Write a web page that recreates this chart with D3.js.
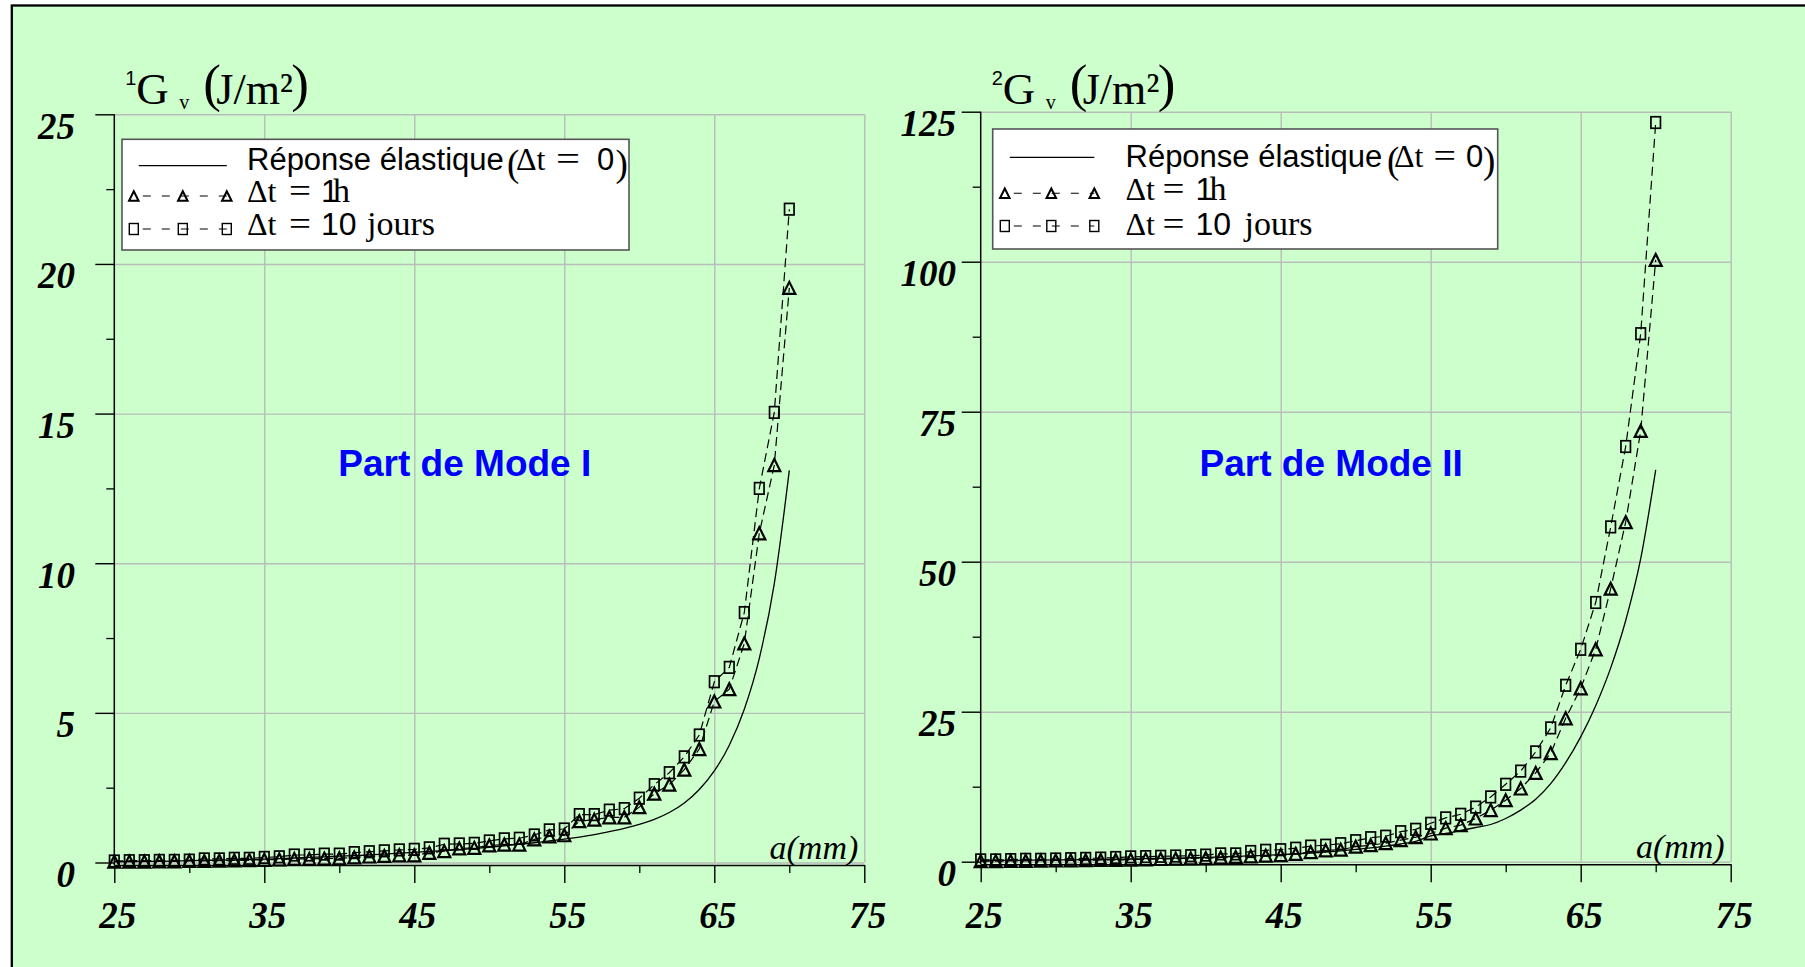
<!DOCTYPE html>
<html>
<head>
<meta charset="utf-8">
<script src="https://d3js.org/d3.v7.min.js"></script>
<style>
body { margin: 0; background: #fff; }
svg { display: block; }
</style>
</head>
<body>
<div id="chart"></div>
<script>
// crack length a (mm), one marker per mm
var aMm = [25, 26, 27, 28, 29, 30, 31, 32, 33, 34, 35, 36, 37, 38, 39, 40, 41, 42, 43, 44, 45, 46, 47,
           48, 49, 50, 51, 52, 53, 54, 55, 56, 57, 58, 59, 60, 61, 62, 63, 64, 65, 66, 67, 68, 69, 70];

// Mode I share, 1Gv (J/m²)
var elastiqueI = [0.03, 0.03, 0.04, 0.04, 0.05, 0.06, 0.07, 0.08, 0.09, 0.10, 0.11, 0.13, 0.15, 0.17, 0.19, 0.21,
                  0.23, 0.25, 0.28, 0.31, 0.34, 0.37, 0.40, 0.43, 0.47, 0.51, 0.56, 0.61, 0.66, 0.72, 0.78, 0.85,
                  0.93, 1.03, 1.14, 1.27, 1.44, 1.67, 1.99, 2.44, 3.06, 3.92, 5.12, 6.82, 9.32, 13.1];
var uneHeureI = [0.03, 0.03, 0.03, 0.04, 0.04, 0.05, 0.05, 0.06, 0.07, 0.08, 0.09, 0.10, 0.12, 0.12, 0.13, 0.14,
                 0.17, 0.20, 0.22, 0.24, 0.24, 0.32, 0.38, 0.47, 0.49, 0.57, 0.60, 0.60, 0.77, 0.87, 0.91, 1.38,
                 1.43, 1.51, 1.51, 1.85, 2.30, 2.60, 3.10, 3.79, 5.38, 5.79, 7.32, 11.0, 13.28, 19.2];
var dixJoursI = [0.05, 0.06, 0.06, 0.07, 0.07, 0.08, 0.12, 0.12, 0.14, 0.14, 0.17, 0.19, 0.25, 0.25, 0.28, 0.28,
                 0.33, 0.36, 0.39, 0.42, 0.44, 0.49, 0.61, 0.62, 0.64, 0.72, 0.79, 0.81, 0.92, 1.09, 1.12, 1.60,
                 1.60, 1.75, 1.80, 2.15, 2.60, 3.00, 3.53, 4.26, 6.04, 6.52, 8.35, 12.5, 15.04, 21.83];

// Mode II share, 2Gv (J/m²)
var elastiqueII = [0.20, 0.21, 0.23, 0.25, 0.27, 0.29, 0.31, 0.34, 0.37, 0.41, 0.45, 0.50, 0.55, 0.60, 0.66, 0.72,
                   0.80, 0.88, 0.97, 1.07, 1.18, 1.30, 1.45, 1.62, 1.82, 2.05, 2.30, 2.60, 2.95, 3.40, 4.30, 4.70,
                   5.20, 5.70, 6.20, 7.20, 8.60, 10.4, 13.0, 16.5, 20.8, 26.0, 32.3, 40.2, 50.5, 65.3];
var uneHeureII = [0.10, 0.10, 0.12, 0.15, 0.17, 0.20, 0.22, 0.25, 0.28, 0.30, 0.35, 0.40, 0.45, 0.50, 0.55, 0.60,
                  0.70, 0.80, 0.90, 1.00, 1.10, 1.30, 1.60, 1.90, 2.00, 2.50, 2.75, 3.10, 3.60, 4.10, 4.70, 5.60,
                  6.10, 7.20, 8.60, 10.25, 12.2, 14.8, 18.1, 23.9, 28.9, 35.4, 45.5, 56.6, 71.8, 100.3];
var dixJoursII = [0.30, 0.30, 0.35, 0.40, 0.40, 0.45, 0.50, 0.55, 0.60, 0.70, 0.80, 0.85, 0.90, 0.95, 1.00, 1.10,
                  1.30, 1.30, 1.70, 1.90, 2.00, 2.25, 2.60, 2.75, 3.00, 3.50, 4.00, 4.25, 5.00, 5.40, 6.40, 7.30,
                  7.90, 9.10, 10.8, 12.9, 15.1, 18.3, 22.3, 29.4, 35.4, 43.2, 55.8, 69.2, 88.0, 123.2];

var xTicks = [25, 35, 45, 55, 65, 75];
var xMinor = [30, 40, 50, 60, 70];
var yTicksI = [0, 5, 10, 15, 20, 25];
var yMinorI = [2.5, 7.5, 12.5, 17.5, 22.5];
var yTicksII = [0, 25, 50, 75, 100, 125];
var yMinorII = [12.5, 37.5, 62.5, 87.5, 112.5];

var modeLabels = ["Part de Mode I", "Part de Mode II"];

var serif = "'Liberation Serif', 'Times New Roman', serif";
var sans = "'Liberation Sans', Arial, sans-serif";
var gridColor = "#b9bdb9";

var panels = [
    {idx: "1", left: 114.3, right: 864.3, bottom: 862.5, top: 114.3, yMax: 25,
     yTicks: yTicksI, yMinor: yMinorI, yLabelRight: 75,
     elastic: elastiqueI, h1: uneHeureI, j10: dixJoursI, label: modeLabels[0],
     legend: {x: 122, y: 139.3, w: 507, h: 110.7, rows: [165.7, 196, 229], base: [170, 201.7, 235],
              m: [133.8, 182.8, 226.8], textX: 247,
              paren: [260, 9, 49, 24, 90, 108.5], eq: [42, 22, 74, 86, 120]}},
    {idx: "2", left: 980.7, right: 1730.7, bottom: 861.7, top: 111.7, yMax: 125,
     yTicks: yTicksII, yMinor: yMinorII, yLabelRight: 956,
     elastic: elastiqueII, h1: uneHeureII, j10: dixJoursII, label: modeLabels[1],
     legend: {x: 992.7, y: 129, w: 505, h: 120, rows: [157.3, 193.3, 226], base: [167, 200, 235],
              m: [1004.8, 1051.3, 1094.3], textX: 1125.5,
              paren: [261.5, 7, 46.5, 22.5, 79, 96], eq: [37, 22, 70, 84, 119]}}
];

var svg = d3.select("#chart").append("svg")
    .attr("width", 1805)
    .attr("height", 967);

// green frame
svg.append("rect")
    .attr("x", 11.8).attr("y", 5.5)
    .attr("width", 1900).attr("height", 1100)
    .attr("fill", "#ccffcc")
    .attr("stroke", "#000")
    .attr("stroke-width", 2.3);

function triPath(w, h) {
    return "M0," + (-h / 2) + "L" + (w / 2) + "," + (h / 2) + "L" + (-w / 2) + "," + (h / 2) + "Z";
}

panels.forEach(function(p) {
    var x = d3.scaleLinear().domain([25, 75]).range([p.left, p.right]);
    var y = d3.scaleLinear().domain([0, p.yMax]).range([p.bottom, p.top]);
    var g = svg.append("g");

    // grid
    g.append("g")
        .attr("transform", "translate(0," + p.bottom + ")")
        .call(d3.axisBottom(x).tickValues(xTicks.slice(1)).tickSize(-(p.bottom - p.top)).tickFormat(""))
        .call(s => s.select(".domain").remove())
        .selectAll("line").attr("stroke", gridColor).attr("stroke-width", 1.4);
    g.append("g")
        .attr("transform", "translate(" + p.left + ",0)")
        .call(d3.axisLeft(y).tickValues(p.yTicks).tickSize(-(p.right - p.left)).tickFormat(""))
        .call(s => s.select(".domain").remove())
        .selectAll("line").attr("stroke", gridColor).attr("stroke-width", 1.4);

    // y axis
    g.append("line")
        .attr("x1", p.left).attr("x2", p.left)
        .attr("y1", y(p.yMax)).attr("y2", y(0) + 2.5)
        .attr("stroke", "#000").attr("stroke-width", 1.5);
    var yAx = g.append("g")
        .attr("transform", "translate(" + p.left + ",0)")
        .call(d3.axisLeft(y).tickValues(p.yTicks).tickSize(19).tickSizeOuter(0));
    yAx.select(".domain").remove();
    yAx.selectAll("line").attr("stroke", "#000").attr("stroke-width", 1.4);
    yAx.selectAll("text")
        .attr("x", p.yLabelRight - p.left)
        .attr("y", 24).attr("dy", null)
        .attr("font-family", serif).attr("font-weight", "bold").attr("font-style", "italic")
        .attr("font-size", 37).attr("fill", "#000");
    g.append("g")
        .attr("transform", "translate(" + p.left + ",0)")
        .call(d3.axisLeft(y).tickValues(p.yMinor).tickSize(8).tickFormat(""))
        .call(s => s.select(".domain").remove())
        .selectAll("line").attr("stroke", "#000").attr("stroke-width", 1.3);

    // x axis
    var xAx = g.append("g")
        .attr("transform", "translate(0," + (p.bottom + 2.5) + ")")
        .call(d3.axisBottom(x).tickValues(xTicks).tickSize(18).tickSizeOuter(0));
    xAx.select(".domain").attr("stroke", "#000").attr("stroke-width", 1.5);
    xAx.selectAll("line").attr("stroke", "#000").attr("stroke-width", 1.4);
    xAx.selectAll("text")
        .attr("x", 3).attr("y", 928 - p.bottom - 2.5).attr("dy", null)
        .attr("font-family", serif).attr("font-weight", "bold").attr("font-style", "italic")
        .attr("font-size", 37).attr("fill", "#000");
    g.append("g")
        .attr("transform", "translate(0," + (p.bottom + 2.5) + ")")
        .call(d3.axisBottom(x).tickValues(xMinor).tickSize(8).tickFormat(""))
        .call(s => s.select(".domain").remove())
        .selectAll("line").attr("stroke", "#000").attr("stroke-width", 1.3);

    g.append("text")
        .attr("x", x(75) - 6).attr("y", p.bottom - 4)
        .attr("text-anchor", "end")
        .attr("font-family", serif).attr("font-style", "italic").attr("font-size", 34)
        .text("a(mm)");

    // series
    var pts = aMm.map(function(a, i) {
        return {a: a, e: p.elastic[i], h: p.h1[i], j: p.j10[i]};
    });
    g.append("path")
        .attr("d", d3.line().x(d => x(d.a)).y(d => y(d.e)).curve(d3.curveMonotoneX)(pts))
        .attr("fill", "none").attr("stroke", "#000").attr("stroke-width", 1.3);
    ["h", "j"].forEach(function(k) {
        g.append("path")
            .attr("d", d3.line().x(d => x(d.a)).y(d => y(d[k]))(pts))
            .attr("fill", "none").attr("stroke", "#000").attr("stroke-width", 1.2)
            .attr("stroke-dasharray", "9,5");
    });
    g.selectAll(".sq").data(pts).enter().append("rect")
        .attr("x", d => x(d.a) - 4.75).attr("y", d => y(d.j) - 5.75)
        .attr("width", 9.5).attr("height", 11.5)
        .attr("fill", "none").attr("stroke", "#000").attr("stroke-width", 1.7);
    g.selectAll(".tri").data(pts).enter().append("path")
        .attr("transform", d => "translate(" + x(d.a) + "," + y(d.h) + ")")
        .attr("d", triPath(12, 12))
        .attr("fill", "none").attr("stroke", "#000").attr("stroke-width", 2.2)
        .attr("stroke-linejoin", "miter");

    // mode label
    g.append("text")
        .attr("x", p.left + 350.5).attr("y", 475.5)
        .attr("text-anchor", "middle")
        .attr("font-family", sans).attr("font-weight", "bold").attr("font-size", 37)
        .attr("fill", "#0000ff")
        .text(p.label);

    // y title: iGv (J/m²)
    var t = g.append("g").attr("font-family", serif).attr("fill", "#000");
    t.append("text").attr("x", p.left + 11).attr("y", 85).attr("font-family", sans).attr("font-size", 20).text(p.idx);
    t.append("text").attr("x", p.left + 22).attr("y", 103.5).attr("font-size", 45).text("G");
    t.append("text").attr("x", p.left + 65).attr("y", 109).attr("font-size", 20).text("v");
    t.append("text").attr("x", p.left + 89).attr("y", 100.5).attr("font-size", 53).text("(");
    t.append("text").attr("x", p.left + 102).attr("y", 103.5).attr("font-size", 44).text("J/m²");
    t.append("text").attr("x", p.left + 177).attr("y", 100.5).attr("font-size", 53).text(")");

    // legend
    var L = p.legend;
    var lg = g.append("g");
    lg.append("rect")
        .attr("x", L.x).attr("y", L.y).attr("width", L.w).attr("height", L.h)
        .attr("fill", "#fff").attr("stroke", "#555").attr("stroke-width", 1.6);
    lg.append("line")
        .attr("x1", L.m[0] + 5).attr("x2", L.m[2])
        .attr("y1", L.rows[0]).attr("y2", L.rows[0])
        .attr("stroke", "#000").attr("stroke-width", 1.3);
    [1, 2].forEach(function(r) {
        lg.append("line")
            .attr("x1", L.m[0]).attr("x2", L.m[2])
            .attr("y1", L.rows[r]).attr("y2", L.rows[r])
            .attr("stroke", "#000").attr("stroke-width", 1.1)
            .attr("stroke-dasharray", "8,11").attr("stroke-dashoffset", -9);
        L.m.forEach(function(mx) {
            if (r === 1) {
                lg.append("path")
                    .attr("transform", "translate(" + mx + "," + L.rows[r] + ")")
                    .attr("d", triPath(9.5, 9.5))
                    .attr("fill", "none").attr("stroke", "#000").attr("stroke-width", 2);
            } else {
                lg.append("rect")
                    .attr("x", mx - 4.5).attr("y", L.rows[r] - 5.5)
                    .attr("width", 9).attr("height", 11)
                    .attr("fill", "none").attr("stroke", "#000").attr("stroke-width", 1.4);
            }
        });
    });
    var X = L.textX;
    lg.append("text")
        .attr("x", X).attr("y", L.base[0])
        .attr("font-family", sans).attr("font-size", 31)
        .text("Réponse élastique");
    var px = X + L.paren[0];
    lg.append("text").attr("x", px).attr("y", L.base[0] + 5.5).attr("font-family", serif).attr("font-size", 37).text("(");
    lg.append("text").attr("x", px + L.paren[1]).attr("y", L.base[0]).attr("font-family", serif).attr("font-size", 32).text("Δt");
    lg.append("text").attr("x", px + L.paren[2]).attr("y", L.base[0]).attr("font-family", serif).attr("font-size", 34)
        .attr("textLength", L.paren[3]).attr("lengthAdjust", "spacingAndGlyphs").text("=");
    lg.append("text").attr("x", px + L.paren[4]).attr("y", L.base[0]).attr("font-family", sans).attr("font-size", 31).text("0");
    lg.append("text").attr("x", px + L.paren[5]).attr("y", L.base[0] + 5.5).attr("font-family", serif).attr("font-size", 37).text(")");

    [1, 2].forEach(function(r) {
        var b = L.base[r];
        lg.append("text").attr("x", X).attr("y", b).attr("font-family", serif).attr("font-size", 32).text("Δt");
        lg.append("text").attr("x", X + L.eq[0]).attr("y", b).attr("font-family", serif).attr("font-size", 34)
            .attr("textLength", L.eq[1]).attr("lengthAdjust", "spacingAndGlyphs").text("=");
        lg.append("text").attr("x", X + L.eq[2]).attr("y", b).attr("font-family", sans).attr("font-size", 32)
            .text(r === 1 ? "1" : "10");
        lg.append("text").attr("x", X + (r === 1 ? L.eq[3] : L.eq[4])).attr("y", b).attr("font-family", serif).attr("font-size", 34)
            .text(r === 1 ? "h" : "jours");
    });
});
</script>
</body>
</html>
